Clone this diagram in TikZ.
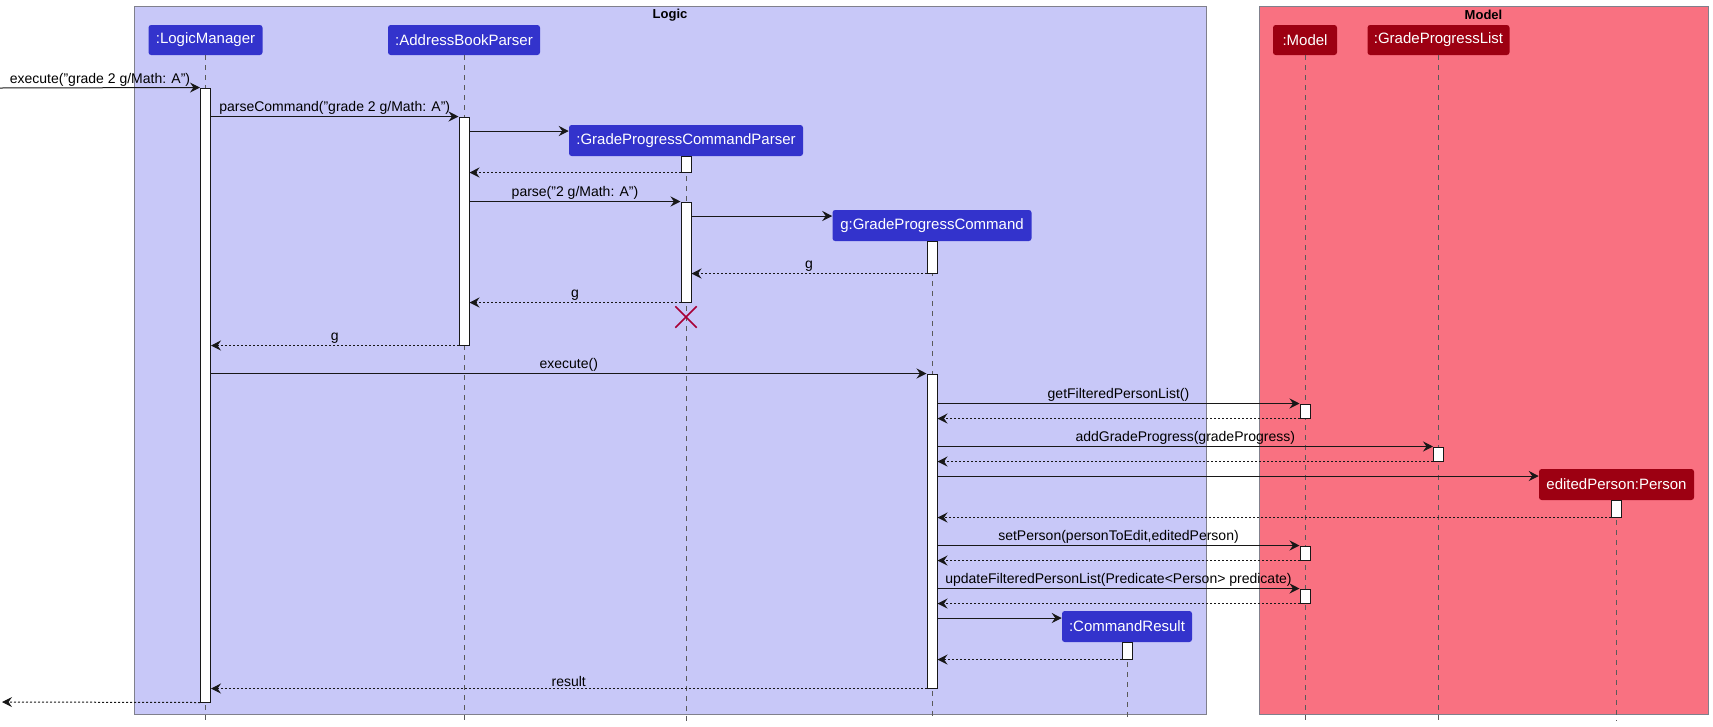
\documentclass[tikz,border=0pt]{standalone}
\usepackage{fontspec}
\setmainfont{Liberation Sans}
\usepackage{xcolor}
\usepackage{tikz}
\usetikzlibrary{arrows.meta,positioning,fit,shapes.misc}

\definecolor{logicbg}{RGB}{200,200,248}
\definecolor{logicpart}{RGB}{51,51,204}
\definecolor{modelbg}{RGB}{249,113,129}
\definecolor{modelpart}{RGB}{157,0,18}
\definecolor{framegray}{RGB}{128,128,140}
\definecolor{lifegray}{RGB}{90,90,90}
\definecolor{killred}{RGB}{168,0,54}
\definecolor{inkblack}{RGB}{24,24,24}

\tikzset{
    part/.style={rectangle, rounded corners=2pt, fill=logicpart, text=white,
        font=\fontsize{11.25}{13}\selectfont, minimum height=22.5pt, inner sep=0pt},
    modelbox/.style={part, fill=modelpart},
    act/.style={draw=inkblack, fill=white, line width=0.75pt, inner sep=0pt},
    life/.style={draw=lifegray, line width=0.5pt, dash pattern=on 3.75pt off 3.75pt},
    msg/.style={draw=inkblack, line width=0.75pt, -{Stealth[length=7.5pt,width=7.5pt,inset=2.6pt]}},
    ret/.style={msg, dash pattern=on 1.5pt off 1.5pt},
    lbl/.style={font=\fontsize{10.5}{12}\selectfont, text=black, above, inner sep=1pt},
    frametitle/.style={font=\bfseries\fontsize{9.75}{11}\selectfont}
}

\begin{document}
\begin{tikzpicture}[x=0.75pt,y=-0.75pt]
    \useasboundingbox (0,0) rectangle (1713,726);

    % Frames
    \draw[draw=framegray, fill=logicbg, line width=0.75pt] (134,6) rectangle (1206,714);
    \draw[draw=framegray, fill=modelbg, line width=0.75pt] (1259,6) rectangle (1708,714);
    \node[frametitle] (logictitle) at (670,15) {Logic};
    \node[frametitle] (modeltitle) at (1483.5,15) {Model};

    % Participants
    \node[part, minimum width=85.5pt] (lm) at (205.5,40) {:LogicManager};
    \node[part, minimum width=114pt] (abp) at (464,40) {:AddressBookParser};
    \node[part, minimum width=175.5pt, minimum height=23.25pt] (gpcp) at (686,140.5) {:GradeProgressCommandParser};
    \node[part, minimum width=149.25pt, minimum height=23.25pt] (gpc) at (932,225.5) {g:GradeProgressCommand};
    \node[modelbox, minimum width=48pt] (model) at (1305,40) {:Model};
    \node[modelbox, minimum width=106.5pt] (gpl) at (1438.5,40) {:GradeProgressList};
    \node[modelbox, minimum width=116.25pt, minimum height=23.25pt] (ep) at (1616.5,484.5) {editedPerson:Person};
    \node[part, minimum width=97.5pt, minimum height=23.25pt] (cr) at (1127,626.5) {:CommandResult};

    % Lifelines
    \coordinate (bot) at (0,721);
    \foreach \p in {lm,abp,gpcp,gpc,model,gpl,ep,cr}
        \draw[life] (\p.south) -- (\p.south |- bot);

    % Activations
    \node[act, fit={(200.5,88) (210.5,702)}] (lmA) {};
    \node[act, fit={(459,117) (469,345)}] (abpA) {};
    \node[act, fit={(681,156) (691,172)}] (gpcpA) {};
    \node[act, fit={(681,202) (691,302)}] (gpcpB) {};
    \node[act, fit={(927,241) (937,273)}] (gpcA) {};
    \node[act, fit={(927,374) (937,688)}] (gpcB) {};
    \node[act, fit={(1300,404) (1310,418)}] (mA) {};
    \node[act, fit={(1300,546) (1310,560)}] (mB) {};
    \node[act, fit={(1300,589) (1310,603)}] (mC) {};
    \node[act, fit={(1433.5,447) (1443.5,461)}] (glA) {};
    \node[act, fit={(1611.5,500) (1621.5,517)}] (epA) {};
    \node[act, fit={(1122,642) (1132,659)}] (crA) {};

    % Parsing
    \coordinate (inlet) at (0,88);
    \draw[msg] (inlet) -- (lmA.north west) node[lbl, midway] {execute("grade 2 g/Math: A")};
    \draw[msg] (lmA.east |- abpA.north) -- (abpA.north west) node[lbl, midway] {parseCommand("grade 2 g/Math: A")};
    \draw[msg] (abpA.east |- 0,131) -- (gpcp.west |- 0,131);
    \draw[ret] (gpcpA.south west) -- (abpA.east |- gpcpA.south);
    \draw[msg] (abpA.east |- gpcpB.north) -- (gpcpB.north west) node[lbl, midway] {parse("2 g/Math: A")};
    \draw[msg] (gpcpB.east |- 0,216) -- (gpc.west |- 0,216);
    \draw[ret] (gpcA.south west) -- (gpcpB.east |- gpcA.south) node[lbl, midway] {g};
    \draw[ret] (gpcpB.south west) -- (abpA.east |- gpcpB.south) node[lbl, midway] {g};
    \node[cross out, draw=killred, line width=1.1pt, minimum size=15pt, inner sep=0pt] (kill) at (686,317) {};
    \draw[ret] (abpA.south west) -- (lmA.east |- abpA.south) node[lbl, midway] {g};

    % Execution
    \draw[msg] (lmA.east |- gpcB.north) -- (gpcB.north west) node[lbl, midway] {execute()};
    \draw[msg] (gpcB.east |- mA.north) -- (mA.north west) node[lbl, midway] {getFilteredPersonList()};
    \draw[ret] (mA.south west) -- (gpcB.east |- mA.south);
    \draw[msg] (gpcB.east |- glA.north) -- (glA.north west) node[lbl, midway] {addGradeProgress(gradeProgress)};
    \draw[ret] (glA.south west) -- (gpcB.east |- glA.south);
    \draw[msg] (gpcB.east |- 0,476) -- (ep.west |- 0,476);
    \draw[ret] (epA.south west) -- (gpcB.east |- epA.south);
    \draw[msg] (gpcB.east |- mB.north) -- (mB.north west) node[lbl, midway] {setPerson(personToEdit,editedPerson)};
    \draw[ret] (mB.south west) -- (gpcB.east |- mB.south);
    \draw[msg] (gpcB.east |- mC.north) -- (mC.north west) node[lbl, midway] {updateFilteredPersonList(Predicate<Person> predicate)};
    \draw[ret] (mC.south west) -- (gpcB.east |- mC.south);
    \draw[msg] (gpcB.east |- 0,618) -- (cr.west |- 0,618);
    \draw[ret] (crA.south west) -- (gpcB.east |- crA.south);
    \draw[ret] (gpcB.south west) -- (lmA.east |- gpcB.south) node[lbl, midway] {result};
    \coordinate (outlet) at (2,702);
    \draw[ret] (lmA.south west) -- (outlet);
\end{tikzpicture}
\end{document}
